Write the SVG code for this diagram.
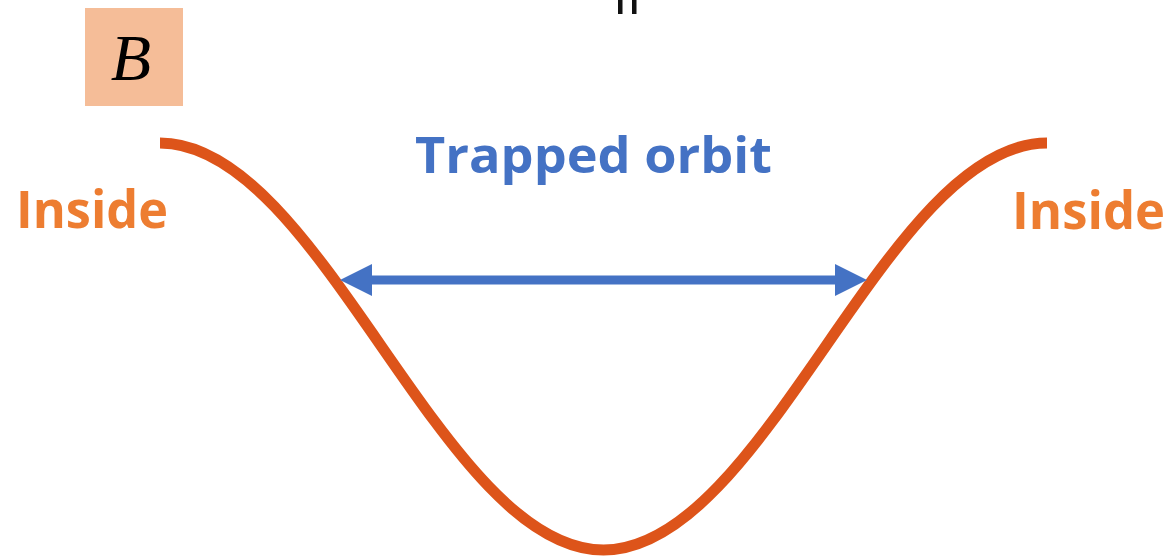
<svg xmlns="http://www.w3.org/2000/svg" width="1173" height="558" viewBox="0 0 1173 558">
  <style>
    .lbl { font-family: "Open Sans", "Liberation Sans", sans-serif; font-weight: bold; }
    .inside { fill: #ED7D31; font-size: 52px; }
    .title { fill: #4472C4; font-size: 50px; }
  </style>
  <defs>
    <marker id="ah" viewBox="0 0 32 32" refX="0" refY="16" markerWidth="32" markerHeight="32" markerUnits="userSpaceOnUse" orient="auto-start-reverse">
      <path d="M0,0 L32,16 L0,32 Z" fill="#4472C4"/>
    </marker>
  </defs>
  <rect width="1173" height="558" fill="#ffffff"/>
  <g id="top-marks" fill="#111111">
    <rect x="618" y="0" width="4.5" height="14"/>
    <rect x="632" y="0" width="4.5" height="14"/>
  </g>
  <g id="node-B">
    <rect x="85" y="8" width="98" height="98" fill="#F5BD98"/>
    <text x="131" y="80" text-anchor="middle" font-family="Liberation Serif, serif" font-style="italic" font-size="66" fill="#000000">B</text>
  </g>
  <g id="curve">
    <path d="M160,143 C321,143 442,550 603.5,550 C765,550 886,143 1047,143" fill="none" stroke="#DD541A" stroke-width="11"/>
  </g>
  <g id="connectors">
    <line x1="372" y1="280" x2="835" y2="280" stroke="#4472C4" stroke-width="9" marker-start="url(#ah)" marker-end="url(#ah)"/>
  </g>
  <g id="label-title">
    <text class="lbl title" x="415" y="173" textLength="357" lengthAdjust="spacingAndGlyphs">Trapped orbit</text>
  </g>
  <g id="label-inside-left">
    <text class="lbl inside" x="16" y="228" textLength="152" lengthAdjust="spacingAndGlyphs">Inside</text>
  </g>
  <g id="label-inside-right">
    <text class="lbl inside" x="1012" y="229" textLength="153" lengthAdjust="spacingAndGlyphs">Inside</text>
  </g>
</svg>
